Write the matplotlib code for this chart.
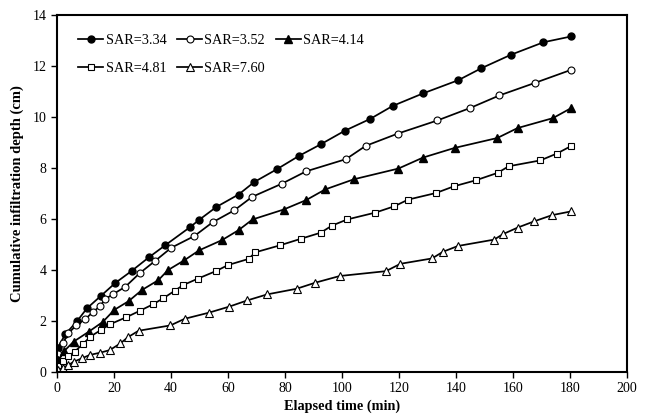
import matplotlib
matplotlib.use("Agg")
import matplotlib.pyplot as plt

# ---- data ----
x_334 = [0, 0.2, 2.9, 7, 10.5, 15.3, 20.5, 26.2, 32.2, 38, 46.7, 49.7, 55.9, 63.7, 69.2, 77.1, 84.8,
         92.5, 100.9, 109.9, 117.8, 128.4, 140.8, 148.9, 159.3, 170.7, 180.5]
y_334 = [0, 0.92, 1.46, 1.97, 2.48, 2.96, 3.48, 3.95, 4.48, 4.96, 5.67, 5.94, 6.46, 6.95, 7.44, 7.94, 8.46,
         8.92, 9.45, 9.92, 10.43, 10.92, 11.44, 11.91, 12.44, 12.93, 13.16]

x_352 = [0, 0.5, 2, 4, 6.8, 9.9, 12.8, 15.2, 17, 19.6, 24, 29, 34.5, 40.1, 48.2, 54.6, 62.2, 68.5, 78.8,
         87.4, 101.4, 108.3, 119.5, 133.5, 145, 155.2, 167.6, 180.5]
y_352 = [0, 0.7, 1.1, 1.5, 1.82, 2.06, 2.35, 2.58, 2.85, 3.03, 3.33, 3.86, 4.35, 4.86, 5.32, 5.86, 6.33, 6.86,
         7.37, 7.86, 8.34, 8.86, 9.34, 9.86, 10.35, 10.84, 11.33, 11.85]

x_414 = [0, 0.5, 2.5, 5.8, 11.1, 16.1, 20.1, 25.1, 29.8, 35.6, 38.9, 44.7, 49.9, 57.9, 63.7, 68.6, 79.5,
         87.4, 94.1, 104.2, 119.8, 128.4, 139.5, 154.5, 161.6, 174, 180.5]
y_414 = [0, 0.45, 0.8, 1.17, 1.56, 1.95, 2.42, 2.76, 3.2, 3.59, 3.98, 4.37, 4.76, 5.16, 5.55, 5.97, 6.36,
         6.73, 7.15, 7.55, 7.97, 8.4, 8.78, 9.17, 9.56, 9.95, 10.35]

x_481 = [0, 0.5, 2, 4, 6.2, 9.1, 11.7, 15.4, 18.7, 24.3, 29, 33.7, 37.2, 41.3, 44.2, 49.5, 55.9, 60, 67.2,
         69.6, 78.1, 85.5, 92.5, 96.5, 101.8, 111.7, 118.4, 123.2, 133, 139.2, 147, 154.6, 158.5, 169.6,
         175.4, 180.5]
y_481 = [0, 0.2, 0.4, 0.6, 0.78, 1.08, 1.37, 1.63, 1.86, 2.13, 2.38, 2.64, 2.87, 3.17, 3.39, 3.65, 3.95,
         4.18, 4.42, 4.68, 4.95, 5.21, 5.45, 5.73, 5.97, 6.24, 6.49, 6.75, 7.01, 7.27, 7.51, 7.8, 8.06,
         8.29, 8.56, 8.86]

x_760 = [0, 0.5, 2, 4, 5.8, 8.8, 11.5, 15.2, 18.5, 22.2, 24.8, 28.6, 39.8, 44.8, 53.3, 60.5, 66.7, 73.8,
         84.1, 90.7, 99.2, 115.4, 120.5, 131.6, 135.4, 140.7, 153.4, 156.4, 161.6, 167.5, 173.7, 180.5]
y_760 = [0, 0.05, 0.15, 0.25, 0.38, 0.52, 0.65, 0.74, 0.84, 1.1, 1.34, 1.6, 1.81, 2.07, 2.31, 2.55, 2.79,
         3.03, 3.25, 3.49, 3.75, 3.94, 4.23, 4.44, 4.7, 4.93, 5.18, 5.39, 5.65, 5.9, 6.14, 6.29]

labels = ["SAR=3.34", "SAR=3.52", "SAR=4.14", "SAR=4.81", "SAR=7.60"]
x_ticks = [0, 20, 40, 60, 80, 100, 120, 140, 160, 180, 200]
y_ticks = [0, 2, 4, 6, 8, 10, 12, 14]

plt.rcParams['font.family'] = ['Liberation Serif', 'DejaVu Serif']

fig = plt.figure(figsize=(6.46, 4.19), dpi=100)
ax = fig.add_axes([57 / 646, 1 - 371.5 / 419, 570 / 646, 356.5 / 419])

series = [
    (x_334, y_334, dict(marker='o', mfc='black', mec='black', ms=5)),
    (x_352, y_352, dict(marker='o', mfc='white', mec='black', ms=5, mew=0.8)),
    (x_414, y_414, dict(marker='^', mfc='black', mec='black', ms=5.5)),
    (x_481, y_481, dict(marker='s', mfc='white', mec='black', ms=5, mew=0.8)),
    (x_760, y_760, dict(marker='^', mfc='white', mec='black', ms=5.5, mew=0.8)),
]
handles = []
for (xs, ys, st), lab in zip(series, labels):
    h, = ax.plot(xs, ys, color='black', lw=1.25, label=lab, **st)
    handles.append(h)

ax.set_xlim(0, 200)
ax.set_ylim(0, 14)
ax.set_xticks(x_ticks)
ax.set_yticks(y_ticks)
ax.tick_params(direction='out', length=4, width=1, labelsize=10)
for s in ax.spines.values():
    s.set_linewidth(1.5)

ax.set_xlabel("Elapsed time (min)", fontsize=10.3, fontweight='bold', labelpad=3)
ax.set_ylabel("Cumulative infiltration depth (cm)", fontsize=10.5, fontweight='bold', labelpad=6)

order = [0, 3, 1, 4, 2]
leg = ax.legend([handles[i] for i in order], [labels[i] for i in order], ncol=3, frameon=False,
                loc='upper left', bbox_to_anchor=(0.02, 0.975), fontsize=10.3, handlelength=1.75,
                handletextpad=0.15, columnspacing=0.75, labelspacing=1.05, borderaxespad=0.3)

fig.savefig("out.png", dpi=100)
